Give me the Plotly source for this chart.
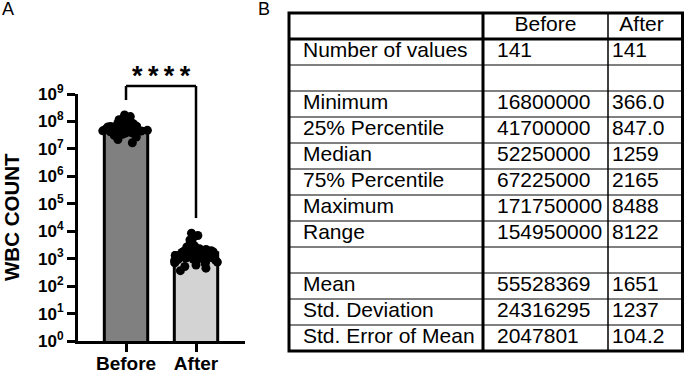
import plotly.graph_objects as go

# ---------------- data ----------------
groups = ["Before", "After"]
group_means = [55528369, 1651]

before_values = [16800000, 22000000, 27000000, 31000000, 34000000, 36000000, 38000000, 39500000,
                 40500000, 41700000, 42500000, 43500000, 44500000, 45500000, 46500000, 47500000,
                 48500000, 49500000, 50500000, 51300000, 52250000, 53000000, 54000000, 55000000,
                 56000000, 57000000, 58000000, 59500000, 61000000, 62500000, 64000000, 65500000,
                 67225000, 69000000, 71000000, 73000000, 75000000, 78000000, 81000000, 85000000,
                 90000000, 96000000, 104000000, 115000000, 130000000, 150000000, 171750000]
after_values = [366, 450, 520, 590, 650, 700, 750, 800, 847, 890, 930, 970, 1010, 1050, 1100,
                1150, 1200, 1259, 1300, 1350, 1400, 1460, 1520, 1600, 1680, 1760, 1850, 1950,
                2050, 2165, 2300, 2450, 2650, 2900, 3200, 3600, 4100, 4800, 5800, 7000, 8488]

ytick_values = [1, 10, 100, 1000, 10000, 100000, 1000000, 10000000, 100000000, 1000000000]
ytick_labels = ["10<sup>%d</sup>" % i for i in range(10)]
y_title = "WBC COUNT"
sig_label = "*\u2009*\u2009*\u2009*"
bracket_logs = [8.78, 9.29, 4.48]   # left-leg end, top, right-leg end (log10 units)

table_header = ["", "Before", "After"]
row_labels = ["Number of values", "", "Minimum", "25% Percentile", "Median", "75% Percentile",
              "Maximum", "Range", "", "Mean", "Std. Deviation", "Std. Error of Mean"]
before_stats = ["141", "", "16800000", "41700000", "52250000", "67225000", "171750000",
                "154950000", "", "55528369", "24316295", "2047801"]
after_stats = ["141", "", "366.0", "847.0", "1259", "2165", "8488", "8122", "", "1651",
               "1237", "104.2"]

# ---------------- layout constants ----------------
W, H = 685, 371
FONT = "Liberation Sans, Arial, sans-serif"


def px(x):                   # pixel x -> paper
    return x / W


def py(y):                   # pixel y -> paper
    return 1 - y / H


def clamp(v):
    return min(1.0, max(0.0, v))


PX0, PX1, PYT, PYB = 78, 245, 94, 341     # left plot box in pixels
ydom = [py(PYB), py(PYT)]
YMAX = 9


def log_to_paper(v):
    return ydom[0] + v / YMAX * (ydom[1] - ydom[0])


fig = go.Figure()

fig.add_trace(go.Bar(
    x=groups, y=group_means, width=0.62,
    marker=dict(color=["#808080", "#d3d3d3"], line=dict(color="black", width=3)),
    showlegend=False, hoverinfo="skip"))

fig.add_trace(go.Box(
    x=["Before"] * len(before_values) + ["After"] * len(after_values),
    y=before_values + after_values,
    boxpoints="all", jitter=1.0, pointpos=0, width=0.7,
    fillcolor="rgba(0,0,0,0)", line=dict(color="rgba(0,0,0,0)", width=0),
    whiskerwidth=0,
    marker=dict(color="black", size=9),
    showlegend=False, hoverinfo="skip"))

# ---------------- table (on its own axes, x in pixels) ----------------
TX0 = 289
col_widths = [194, 125, 75]
col_pads = [14, 14, 4]
col_lefts = [TX0, TX0 + col_widths[0], TX0 + col_widths[0] + col_widths[1]]
TX1 = col_lefts[2] + col_widths[2] - 0.5
nrows = len(row_labels) + 1
TFONT = dict(family=FONT, size=21, color="black")
ROW_PX, TTOP = 26, 13

rows_idx = list(range(1, nrows))
for col, vals in enumerate([row_labels, before_stats, after_stats]):
    fig.add_trace(go.Scatter(
        x=[col_lefts[col] + col_pads[col]] * len(vals), y=rows_idx, text=vals,
        mode="text", textposition="middle right", textfont=TFONT,
        xaxis="x2", yaxis="y2", showlegend=False, hoverinfo="skip"))
fig.add_trace(go.Scatter(
    x=[col_lefts[1] + col_widths[1] / 2, col_lefts[2] + col_widths[2] / 2 - 4], y=[0, 0],
    text=table_header[1:], mode="text", textposition="middle center", textfont=TFONT,
    xaxis="x2", yaxis="y2", showlegend=False, hoverinfo="skip"))

shapes = []
shapes.append(dict(type="rect", xref="x2", yref="y2", x0=TX0, x1=TX1, y0=-0.5, y1=nrows - 0.5,
                   line=dict(color="black", width=3)))
for k in range(nrows - 1):
    shapes.append(dict(type="line", xref="x2", yref="y2", x0=TX0, x1=TX1, y0=k + 0.5, y1=k + 0.5,
                       line=dict(color="black", width=3 if k == 0 else 1)))
shapes.append(dict(type="line", xref="x2", yref="y2", x0=col_lefts[1], x1=col_lefts[1],
                   y0=-0.5, y1=nrows - 0.5, line=dict(color="black", width=3)))
shapes.append(dict(type="line", xref="x2", yref="y2", x0=col_lefts[2], x1=col_lefts[2],
                   y0=-0.5, y1=nrows - 0.5, line=dict(color="black", width=1.5)))

# significance bracket
bl, bt, br = [log_to_paper(v) for v in bracket_logs]
bk = dict(color="black", width=2.5)
shapes.append(dict(type="line", xref="x", yref="paper", x0=0, x1=0, y0=bl, y1=bt, line=bk))
shapes.append(dict(type="line", xref="x", yref="paper", x0=0, x1=1, y0=bt, y1=bt, line=bk))
shapes.append(dict(type="line", xref="x", yref="paper", x0=1, x1=1, y0=bt, y1=br, line=bk))

annotations = [
    dict(text=sig_label, xref="x", yref="paper", x=0.5, y=py(76), xanchor="center",
         yanchor="middle", showarrow=False,
         font=dict(family=FONT, size=27, color="black", weight="bold")),
    dict(text=y_title, xref="paper", yref="paper", x=px(11), y=py(217), textangle=-90,
         xanchor="center", yanchor="middle", showarrow=False,
         font=dict(family=FONT, size=20.5, color="black", weight="bold")),
    dict(text="A", xref="paper", yref="paper", x=px(0), y=py(9), xanchor="left", yanchor="middle",
         showarrow=False, font=dict(family=FONT, size=18, color="black")),
    dict(text="B", xref="paper", yref="paper", x=px(256), y=py(9), xanchor="left",
         yanchor="middle", showarrow=False, font=dict(family=FONT, size=18, color="black")),
]

pad = 0.25
fig.update_layout(
    width=W, height=H, margin=dict(l=0, r=0, t=0, b=0, autoexpand=False),
    paper_bgcolor="white", plot_bgcolor="white",
    font=dict(family=FONT, color="black"),
    boxmode="overlay",
    xaxis=dict(domain=[px(PX0), px(PX1)], type="category", range=[-0.686, 1.7],
               showline=True, linewidth=3, linecolor="black", ticks="outside", ticklen=8,
               tickwidth=3, tickcolor="black", showgrid=False, zeroline=False, automargin=False,
               ticklabelstandoff=-5,
               tickfont=dict(family=FONT, size=19, color="black", weight="bold")),
    yaxis=dict(domain=ydom, type="log", range=[0, YMAX], tickvals=ytick_values,
               ticktext=ytick_labels, showline=True, linewidth=3, linecolor="black",
               ticks="outside", ticklen=8, tickwidth=3, tickcolor="black", showgrid=False,
               zeroline=False, automargin=False,
               tickfont=dict(family=FONT, size=17, color="black", weight="bold")),
    xaxis2=dict(domain=[px(280), 1], range=[280, W], visible=False, anchor="y2",
                automargin=False),
    yaxis2=dict(domain=[clamp(py(TTOP + (nrows + pad) * ROW_PX)),
                        clamp(py(TTOP - pad * ROW_PX))],
                range=[nrows - 0.5 + pad, -0.5 - pad], visible=False, anchor="x2",
                automargin=False),
    shapes=shapes, annotations=annotations,
)

# remove the default page margin so the figure fills the window exactly
fig.write_html("out.html", config={"displayModeBar": False},
               post_script="document.body.style.margin='0';")
